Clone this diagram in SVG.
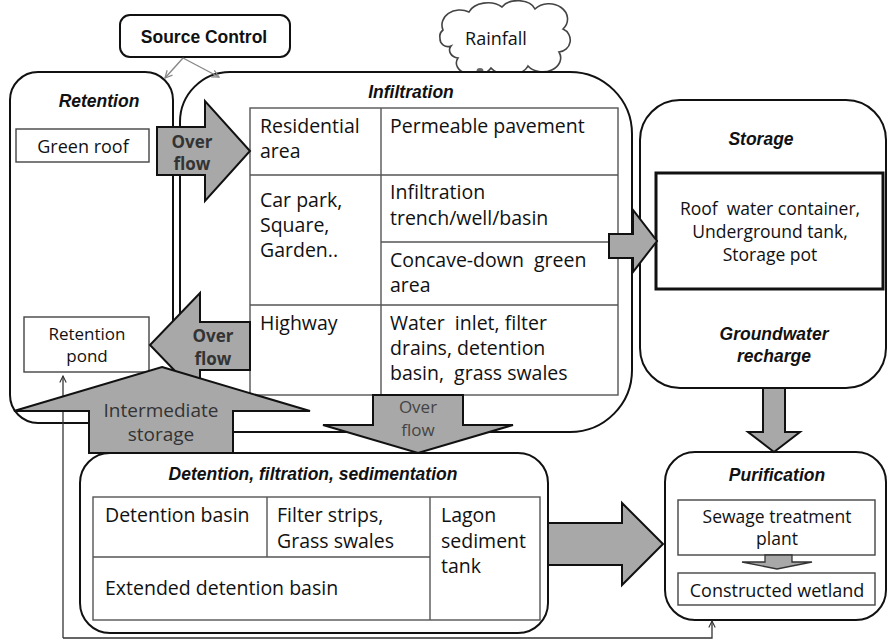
<svg xmlns="http://www.w3.org/2000/svg" width="888" height="642" viewBox="0 0 888 642">
  <style>
    .box { fill: #fff; stroke: #111; stroke-width: 2; }
    .cell { fill: none; stroke: #555; stroke-width: 1.4; }
    .inner { fill: #fff; stroke: #444; stroke-width: 1.4; }
    .big { fill: #a8a8a8; stroke: #111; stroke-width: 2; stroke-linejoin: miter; }
    .t { font-family: "Open Sans", "Liberation Sans", sans-serif; font-size: 19.5px; fill: #111; }
    .s { font-size: 17.5px; }
    .title { font-family: "Liberation Sans", Arial, sans-serif; font-size: 17.5px; font-weight: bold; font-style: italic; fill: #111; text-anchor: middle; }
    .c { text-anchor: middle; }
    .ov { font-family: "Open Sans", "Liberation Sans", sans-serif; font-size: 17px; font-weight: bold; fill: #333; text-anchor: middle; }
    .ovr { font-family: "Open Sans", "Liberation Sans", sans-serif; font-size: 17px; fill: #444; text-anchor: middle; }
    .thin { fill: none; stroke: #333; stroke-width: 1.3; }
    .grey { fill: none; stroke: #888; stroke-width: 1.4; }
  </style>
  <defs>
    <marker id="openHead" viewBox="0 0 10 10" refX="9" refY="5" markerWidth="8" markerHeight="8" markerUnits="userSpaceOnUse" orient="auto">
      <path d="M1,1 L9,5 L1,9" fill="none" stroke="#333" stroke-width="1.4"/>
    </marker>
    <marker id="greyHead" viewBox="0 0 10 10" refX="9" refY="5" markerWidth="9" markerHeight="9" markerUnits="userSpaceOnUse" orient="auto">
      <path d="M1,1 L9,5 L1,9" fill="none" stroke="#888" stroke-width="1.4"/>
    </marker>
  </defs>

  <rect width="888" height="642" fill="#fff"/>

  <!-- Source control -->
  <g id="source-control">
    <rect x="120" y="15" width="170" height="42" rx="10" class="box"/>
    <text x="204" y="43" class="t c" style="font-family:'Liberation Sans',Arial,sans-serif;font-size:17.5px;font-weight:bold">Source Control</text>
  </g>

  <!-- Rainfall cloud -->
  <g id="rainfall">
    <path d="M443,30 a18,15 0 0 1 26,-18 a20,14 0 0 1 33,-5 a18,12 0 0 1 33,2 a17,14 0 0 1 28,20 a12,12 0 0 1 -4,23 a18,14 0 0 1 -31,14 a20,12 0 0 1 -37,2 a18,12 0 0 1 -33,-10 a10,8 0 0 1 -7,-12 a8,8 0 0 1 -11,-8 a8,8 0 0 1 3,-8 z" fill="#fff" stroke="#444" stroke-width="1.6"/>
    <ellipse cx="473" cy="77" rx="5" ry="4" fill="#555"/>
    <ellipse cx="480" cy="71" rx="3.5" ry="3" fill="#666"/>
    <text x="496" y="45" class="t c" style="font-size:18px">Rainfall</text>
  </g>

  <!-- Retention -->
  <g id="retention">
    <rect x="10" y="72" width="163" height="351" rx="28" class="box"/>
    <text x="99" y="107" class="title">Retention</text>
    <rect x="16" y="129" width="133" height="33" class="inner"/>
    <text x="83" y="153" class="t c" style="font-size:18px">Green roof</text>
    <rect x="24" y="317" width="125" height="55" class="inner"/>
    <text x="87" y="340" class="t c" style="font-size:17px">Retention</text>
    <text x="87" y="362" class="t c" style="font-size:17px">pond</text>
  </g>

  <!-- Infiltration -->
  <g id="infiltration">
    <path d="M230,72 H570 A62,62 0 0 1 632,134 V370 A62,62 0 0 1 570,432 H200 A20,20 0 0 1 180,412 V122 A50,50 0 0 1 230,72 Z" class="box"/>
    <text x="411" y="98" class="title">Infiltration</text>
    <rect x="250" y="108" width="368" height="287" class="cell"/>
    <line x1="381" y1="108" x2="381" y2="395" class="cell"/>
    <line x1="250" y1="175" x2="618" y2="175" class="cell"/>
    <line x1="381" y1="242" x2="618" y2="242" class="cell"/>
    <line x1="250" y1="305" x2="618" y2="305" class="cell"/>
    <text class="t" x="260" y="133">Residential</text>
    <text class="t" x="260" y="158">area</text>
    <text class="t" x="390" y="133">Permeable pavement</text>
    <text class="t" x="260" y="207">Car park,</text>
    <text class="t" x="260" y="232">Square,</text>
    <text class="t" x="260" y="257">Garden..</text>
    <text class="t" x="390" y="199">Infiltration</text>
    <text class="t" x="390" y="225">trench/well/basin</text>
    <text class="t" x="390" y="267" xml:space="preserve">Concave-down  green</text>
    <text class="t" x="390" y="292">area</text>
    <text class="t" x="260" y="330">Highway</text>
    <text class="t" x="390" y="330" xml:space="preserve">Water  inlet, filter</text>
    <text class="t" x="390" y="355">drains, detention</text>
    <text class="t" x="390" y="380" xml:space="preserve">basin,  grass swales</text>
  </g>

  <!-- Storage -->
  <g id="storage">
    <rect x="640" y="100" width="246" height="288" rx="40" class="box"/>
    <text x="761" y="145" class="title">Storage</text>
    <rect x="656" y="173" width="227" height="116" fill="#fff" stroke="#111" stroke-width="3"/>
    <text class="t c s" x="770" y="215" xml:space="preserve">Roof  water container,</text>
    <text class="t c s" x="770" y="238">Underground tank,</text>
    <text class="t c s" x="770" y="261">Storage pot</text>
    <text x="774" y="340" class="title">Groundwater</text>
    <text x="774" y="362" class="title">recharge</text>
  </g>

  <!-- Detention, filtration, sedimentation -->
  <g id="detention">
    <rect x="80" y="453" width="468" height="180" rx="30" class="box"/>
    <text x="313" y="480" class="title">Detention, filtration, sedimentation</text>
    <rect x="93" y="497" width="447" height="123" class="cell"/>
    <line x1="93" y1="557" x2="430" y2="557" class="cell"/>
    <line x1="267" y1="497" x2="267" y2="557" class="cell"/>
    <line x1="430" y1="497" x2="430" y2="620" class="cell"/>
    <text class="t" x="105" y="522">Detention basin</text>
    <text class="t" x="277" y="522">Filter strips,</text>
    <text class="t" x="277" y="548">Grass swales</text>
    <text class="t" x="105" y="595">Extended detention basin</text>
    <text class="t" x="441" y="522">Lagon</text>
    <text class="t" x="441" y="548">sediment</text>
    <text class="t" x="441" y="573">tank</text>
  </g>

  <!-- Purification -->
  <g id="purification">
    <rect x="665" y="452" width="221" height="168" rx="30" class="box"/>
    <text x="777" y="481" class="title">Purification</text>
    <rect x="678" y="500" width="197" height="55" class="inner"/>
    <text class="t c" x="777" y="523" style="font-size:17.5px">Sewage treatment</text>
    <text class="t c" x="777" y="545" style="font-size:17.5px">plant</text>
    <rect x="678" y="573" width="197" height="32" class="inner"/>
    <text class="t c" x="777" y="597" style="font-size:18px">Constructed wetland</text>
    <polygon points="765,555 792,555 792,562 812,562 777,569 742,562 765,562" fill="#a8a8a8" stroke="#333" stroke-width="1.3"/>
  </g>

  <!-- Connectors -->
  <g id="connectors">
    <line x1="183" y1="58" x2="165" y2="78" class="grey" marker-end="url(#greyHead)"/>
    <line x1="183" y1="58" x2="219" y2="77" class="grey" marker-end="url(#greyHead)"/>
    <path d="M63,638 V376" class="thin" marker-end="url(#openHead)"/>
    <path d="M63,638 H712 V621" class="thin" marker-end="url(#openHead)"/>

    <!-- overflow: retention to infiltration -->
    <polygon points="157,127 205,127 205,101 250,151 205,201 205,175 157,175" class="big"/>
    <text x="192" y="148" class="ov">Over</text>
    <text x="192" y="170" class="ov">flow</text>

    <!-- overflow: infiltration back to retention pond -->
    <polygon points="250,322 250,370 200,370 200,397 150,345 200,293 200,322" class="big"/>
    <text x="213" y="342" class="ov">Over</text>
    <text x="213" y="365" class="ov">flow</text>

    <!-- intermediate storage -->
    <polygon points="162,367 310,411 233,411 233,453 89,453 89,411 14,411" class="big"/>
    <text x="161" y="417" class="t c" style="fill:#333;font-size:19px">Intermediate</text>
    <text x="161" y="441" class="t c" style="fill:#333;font-size:19px">storage</text>

    <!-- overflow: infiltration down to detention -->
    <polygon points="373,395 463,395 463,425 513,425 418,453 323,425 373,425" class="big"/>
    <text x="418" y="413" class="ovr">Over</text>
    <text x="418" y="436" class="ovr">flow</text>

    <!-- infiltration to storage -->
    <polygon points="609,234 633,234 633,210 657,241 633,272 633,258 609,258" class="big"/>

    <!-- storage down to purification -->
    <polygon points="763,388 785,388 785,432 800,432 774,452 748,432 763,432" class="big"/>

    <!-- detention to purification -->
    <polygon points="548,523 622,523 622,503 663,544 622,585 622,565 548,565" class="big"/>
  </g>
</svg>
